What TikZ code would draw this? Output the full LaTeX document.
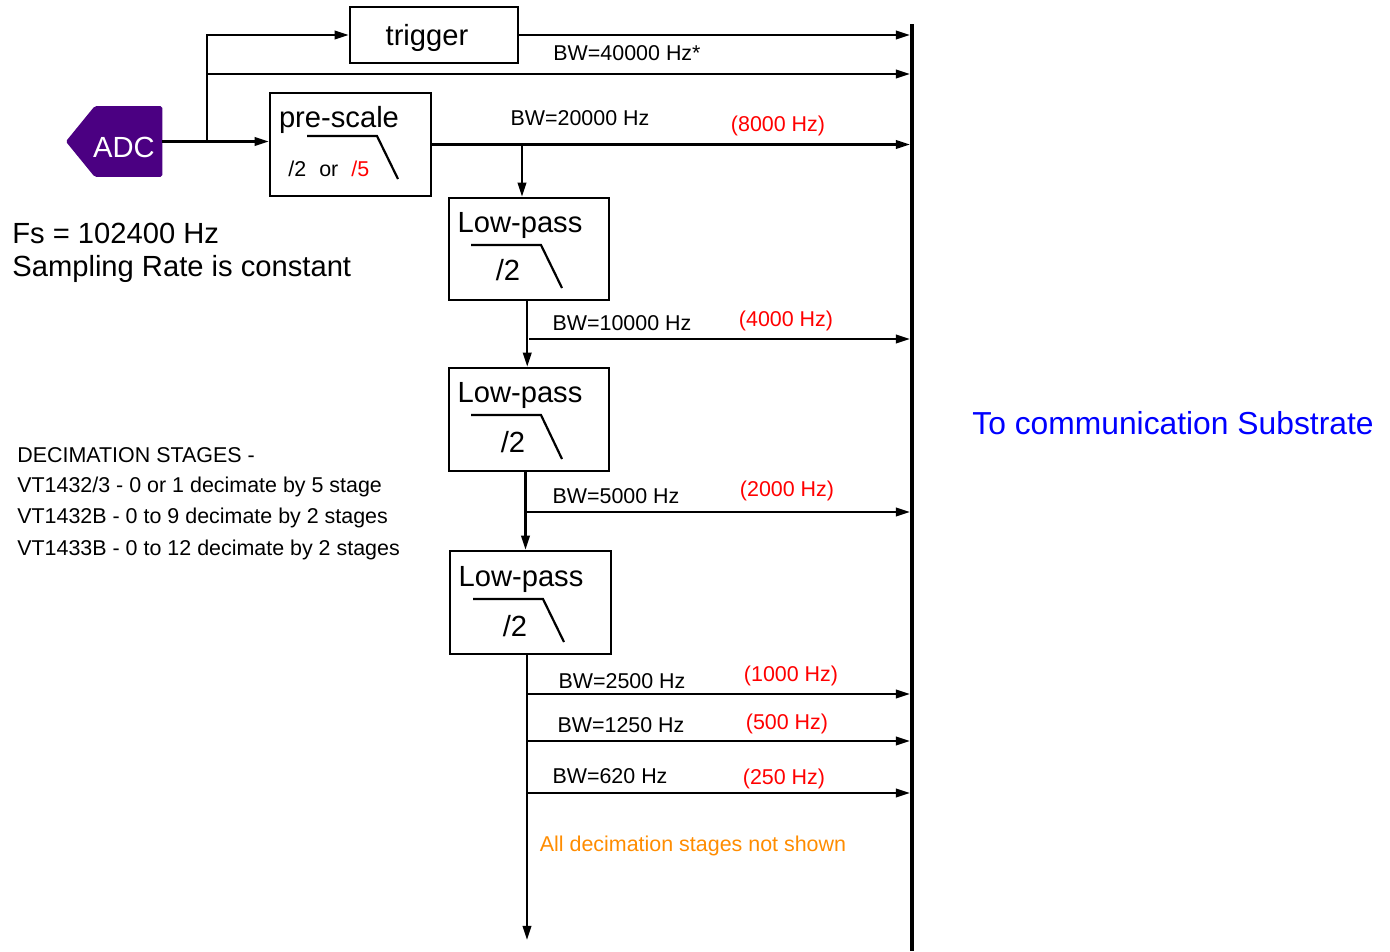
\documentclass[tikz,border=0pt]{standalone}
\usepackage{fontspec}
\setmainfont{Liberation Sans}
\usetikzlibrary{arrows.meta}
\definecolor{adcfill}{RGB}{75,0,130}
\definecolor{noteorange}{RGB}{255,140,0}
\newcommand{\smalltxt}{\fontsize{12.2}{14}\selectfont}
\newcommand{\bigtxt}{\fontsize{16.6}{19}\selectfont}
\tikzset{
  block/.style={draw, line width=1.4pt, inner sep=0pt},
  flow/.style={-{Triangle[length=8pt,width=4.8pt]}, line width=1.25pt},
  wire/.style={line width=1.25pt},
  bw/.style={font=\smalltxt, inner sep=0pt},
  rate/.style={font=\smalltxt, text=red, inner sep=0pt},
}
\begin{document}
\begin{tikzpicture}[x=0.02cm, y=-0.02cm]
  \useasboundingbox (0,0) rectangle (1390,951);
  % bus to the substrate
  \coordinate (bustop) at (912,24);
  \coordinate (busbot) at (912,951);
  \coordinate (busin) at (910,0);
  \draw [line width=2.3pt] (bustop) -- (busbot);
  \node [font=\fontsize{18.1}{21}\selectfont, text=blue, inner sep=0pt] (substrate) at (1173,423) {To communication Substrate};

  % ADC
  \node [minimum width=1.34cm, minimum height=1.4cm, inner sep=0pt] (adc) at (128.5,141.5) {};
  \fill [adcfill, rounded corners=1pt] (adc.north east) -- (adc.north west) -- ([xshift=-16.4pt]adc.west)
    -- (adc.south west) -- (adc.south east) -- cycle;
  \node [font=\bigtxt, text=white, inner sep=0pt] (adctext) at (124,147) {ADC};
  \node [font=\bigtxt, anchor=west, inner sep=0pt] (fs) at (12,233) {Fs = 102400 Hz};
  \node [font=\bigtxt, anchor=west, inner sep=0pt] (srate) at (12,269) {Sampling Rate is constant};

  % trigger and pre-scale
  \node [block, minimum width=3.36cm, minimum height=1.12cm] (trigger) at (434,35) {};
  \node [font=\bigtxt, inner sep=0pt] (triggertext) at (427,38) {trigger};
  \node [block, minimum width=3.22cm, minimum height=2.06cm] (prescale) at (350.5,144.5) {};
  \node [font=\bigtxt, inner sep=0pt] (prescaletext) at (339,120) {pre-scale};
  \draw [wire] (307,136) -- (377,136) -- (398,179);
  \node [bw, anchor=west] (div) at (288,169) {/2\,\, or\,\, \textcolor{red}{/5}};

  \coordinate (split) at (207,141);
  \coordinate (tap0) at (207,74);
  \draw [flow] (adc.east) -- (adc.east -| prescale.west);
  \draw [wire] (split) -- (tap0);
  \draw [flow] (tap0) |- (trigger.west);
  \draw [flow] (tap0) -- (tap0 -| busin);
  \draw [flow] (trigger.east) -- (trigger.east -| busin);
  \node [bw] (bw1) at (627,53) {BW=40000 Hz*};
  \draw [flow] (prescale.east) -- (prescale.east -| busin);
  \node [bw] (bw2) at (580,118) {BW=20000 Hz};
  \node [rate] (r2) at (778,126) {(8000 Hz)};

  % low-pass stages
  \node [block, minimum width=3.2cm, minimum height=2.04cm] (lp1) at (529,249) {};
  \node [font=\bigtxt, inner sep=0pt] at (520,225) {Low-pass};
  \node [font=\bigtxt, inner sep=0pt] at (508,270) {/2};
  \draw [wire] (471,245) -- (541,245) -- (562,288);

  \node [block, minimum width=3.2cm, minimum height=2.06cm] (lp2) at (529,419.5) {};
  \node [font=\bigtxt, inner sep=0pt] at (520,395) {Low-pass};
  \node [font=\bigtxt, inner sep=0pt] at (513,442) {/2};
  \draw [wire] (471,415) -- (541,415) -- (562,459);

  \node [block, minimum width=3.22cm, minimum height=2.06cm] (lp3) at (530.5,602.5) {};
  \node [font=\bigtxt, inner sep=0pt] at (521,579) {Low-pass};
  \node [font=\bigtxt, inner sep=0pt] at (515,626) {/2};
  \draw [wire] (473,599) -- (543,599) -- (564,642);

  \coordinate (b0) at (522,145);
  \draw [flow] (b0) -- (b0 |- lp1.north);
  \draw [flow] ([xshift=-1pt]lp1.south) -- ([xshift=-1pt]lp2.north);
  \draw [flow] (lp1.south |- 0,339) -- (busin |- 0,339);
  \node [bw] (bw3) at (622,323) {BW=10000 Hz};
  \node [rate] (r3) at (786,321) {(4000 Hz)};
  \draw [flow] ([xshift=-2pt]lp2.south) -- ([xshift=-2pt]lp2.south |- lp3.north);
  \draw [flow] ([xshift=-2pt]lp2.south |- 0,512) -- (busin |- 0,512);
  \node [bw] (bw4) at (616,496) {BW=5000 Hz};
  \node [rate] (r4) at (787,491) {(2000 Hz)};

  \coordinate (tail) at (527,940);
  \draw [flow] (lp3.south -| tail) -- (tail);
  \foreach \y/\bwx/\bwy/\bwt/\rx/\ry/\rt in {694/622/681/2500/791/676/1000,
      741/621/725/1250/787/724/500, 793/610/776/620/784/779/250} {
    \draw [flow] (tail |- 0,\y) -- (busin |- 0,\y);
    \node [bw] at (\bwx,\bwy) {BW=\bwt\ Hz};
    \node [rate] at (\rx,\ry) {(\rt\ Hz)};
  }
  \node [font=\smalltxt, text=noteorange, inner sep=0pt] (note) at (693,846) {All decimation stages not shown};

  % decimation stages text
  \node [font=\smalltxt, anchor=west, inner sep=0pt] (dec0) at (17,455) {DECIMATION STAGES -};
  \node [font=\smalltxt, anchor=west, inner sep=0pt] (dec1) at (17,487) {VT1432/3 - 0 or 1 decimate by 5 stage};
  \node [font=\smalltxt, anchor=west, inner sep=0pt] (dec2) at (17,518) {VT1432B - 0 to 9 decimate by 2 stages};
  \node [font=\smalltxt, anchor=west, inner sep=0pt] (dec3) at (17,550) {VT1433B - 0 to 12 decimate by 2 stages};
\end{tikzpicture}
\end{document}
